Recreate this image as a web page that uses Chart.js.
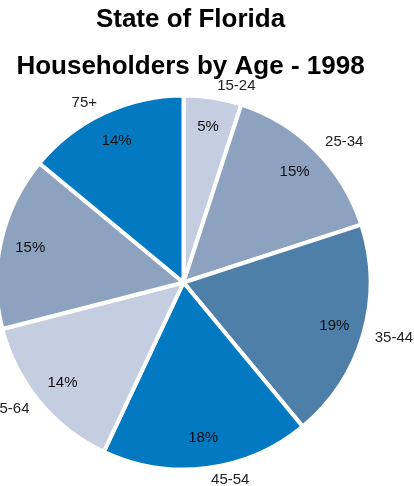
<!DOCTYPE html>
<html>
<head>
<meta charset="utf-8">
<script src="https://cdn.jsdelivr.net/npm/chart.js@4/dist/chart.umd.min.js"></script>
<style>
  html,body{margin:0;padding:0;background:#fff;}
  #wrap{position:relative;width:414px;height:486px;}
</style>
</head>
<body>
<div id="wrap"><canvas id="c" width="414" height="486"></canvas></div>
<script>
const titleLines = ["State of Florida", "Householders by Age - 1998"];
const categories = ["15-24", "25-34", "35-44", "45-54", "55-64", "65-74", "75+"];
const shares = [5, 15, 19, 18, 14, 15, 14];
const sliceColors = ["#c5cde0", "#8da2bf", "#4e7fa8", "#0279c1", "#c5cde0", "#8da2bf", "#0279c1"];

const FONT = '"Liberation Sans", Arial, Helvetica, sans-serif';

const labelPlugin = {
  id: 'labelPlugin',
  afterDraw(chart) {
    const ctx = chart.ctx;
    ctx.save();
    // title
    ctx.fillStyle = '#000';
    ctx.font = 'bold 26px ' + FONT;
    ctx.textAlign = 'center';
    ctx.textBaseline = 'alphabetic';
    ctx.fillText(titleLines[0], 190.5, 27);
    ctx.fillText(titleLines[1], 190.5, 74);

    const meta = chart.getDatasetMeta(0);
    ctx.font = '15px ' + FONT;
    ctx.textBaseline = 'middle';
    meta.data.forEach((arc, i) => {
      const p = arc.getProps(['x', 'y', 'startAngle', 'endAngle', 'outerRadius'], true);
      const mid = (p.startAngle + p.endAngle) / 2;
      const c = Math.cos(mid), s = Math.sin(mid);
      // percent label inside
      ctx.fillStyle = '#111';
      ctx.textAlign = 'center';
      const ir = p.outerRadius * 0.84;
      ctx.fillText(shares[i] + '%', p.x + c * ir, p.y + s * ir);
      // category label outside
      const orr = p.outerRadius + 9;
      const px = p.x + c * orr, py = p.y + s * orr;
      const w = ctx.measureText(categories[i]).width;
      const cx = px + Math.sign(c) * (w / 2 + 3);
      const cy = py + s * 3;
      ctx.fillStyle = '#222';
      ctx.fillText(categories[i], cx, cy);
    });
    ctx.restore();
  }
};

new Chart(document.getElementById('c'), {
  type: 'pie',
  data: {
    labels: categories,
    datasets: [{
      data: shares,
      backgroundColor: sliceColors,
      borderColor: '#ffffff',
      borderWidth: 4,
      radius: 187
    }]
  },
  options: {
    responsive: false,
    animation: false,
    layout: { padding: { left: 0, right: 47, top: 97, bottom: 18 } },
    plugins: {
      legend: { display: false },
      title: { display: false },
      tooltip: { enabled: false }
    }
  },
  plugins: [labelPlugin]
});
</script>
</body>
</html>
